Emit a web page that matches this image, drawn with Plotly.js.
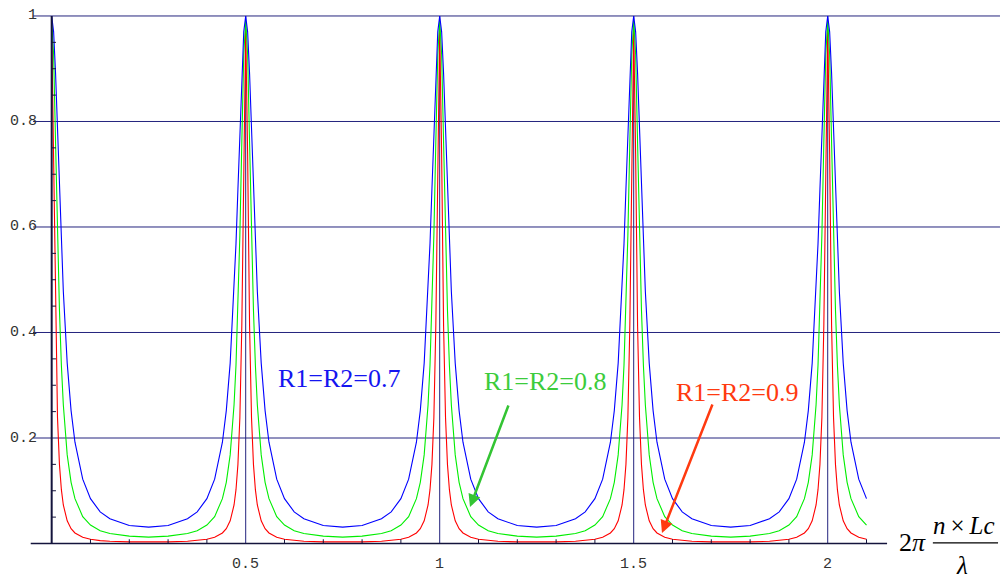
<!DOCTYPE html>
<html>
<head>
<meta charset="utf-8">
<script src="https://cdn.plot.ly/plotly-3.0.1.min.js"></script>
<style>html,body{margin:0;padding:0;background:#fff;}#chart{width:1006px;height:578px;}</style>
</head>
<body>
<div id="chart"></div>
<script>
// phase values along the x axis (2π·n·Lc/λ)
const xPhase = [
  0, 0.005, 0.01, 0.015, 0.02, 0.025, 0.03, 0.04, 0.05, 0.06, 0.08, 0.1, 0.125, 0.15, 0.2, 0.25, 0.3, 0.35, 0.375, 0.4, 0.42, 0.44, 0.45, 0.46, 0.47, 0.475, 0.48, 0.485, 0.49, 0.495,
  0.5, 0.505, 0.51, 0.515, 0.52, 0.525, 0.53, 0.54, 0.55, 0.56, 0.58, 0.6, 0.625, 0.65, 0.7, 0.75, 0.8, 0.85, 0.875, 0.9, 0.92, 0.94, 0.95, 0.96, 0.97, 0.975, 0.98, 0.985, 0.99, 0.995,
  1, 1.005, 1.01, 1.015, 1.02, 1.025, 1.03, 1.04, 1.05, 1.06, 1.08, 1.1, 1.125, 1.15, 1.2, 1.25, 1.3, 1.35, 1.375, 1.4, 1.42, 1.44, 1.45, 1.46, 1.47, 1.475, 1.48, 1.485, 1.49, 1.495,
  1.5, 1.505, 1.51, 1.515, 1.52, 1.525, 1.53, 1.54, 1.55, 1.56, 1.58, 1.6, 1.625, 1.65, 1.7, 1.75, 1.8, 1.85, 1.875, 1.9, 1.92, 1.94, 1.95, 1.96, 1.97, 1.975, 1.98, 1.985, 1.99, 1.995,
  2, 2.005, 2.01, 2.015, 2.02, 2.025, 2.03, 2.04, 2.05, 2.06, 2.08, 2.1
];
// transmission, R1=R2=0.7 (blue)
const tR07 = [
  1, .970, .891, .784, .672, .568, .478, .342, .252, .192, .122, .085, .060, .047, .034, .031, .034, .047, .060, .085, .122, .192, .252, .342, .478, .568, .672, .784, .891, .970,
  1, .970, .891, .784, .672, .568, .478, .342, .252, .192, .122, .085, .060, .047, .034, .031, .034, .047, .060, .085, .122, .192, .252, .342, .478, .568, .672, .784, .891, .970,
  1, .970, .891, .784, .672, .568, .478, .342, .252, .192, .122, .085, .060, .047, .034, .031, .034, .047, .060, .085, .122, .192, .252, .342, .478, .568, .672, .784, .891, .970,
  1, .970, .891, .784, .672, .568, .478, .342, .252, .192, .122, .085, .060, .047, .034, .031, .034, .047, .060, .085, .122, .192, .252, .342, .478, .568, .672, .784, .891, .970,
  1, .970, .891, .784, .672, .568, .478, .342, .252, .192, .122, .085
];
// transmission, R1=R2=0.8 (green)
const tR08 = [
  .99, .927, .760, .585, .443, .338, .263, .168, .116, .085, .051, .035, .024, .019, .014, .012, .014, .019, .024, .035, .051, .085, .116, .168, .263, .338, .443, .585, .760, .927,
  .99, .927, .760, .585, .443, .338, .263, .168, .116, .085, .051, .035, .024, .019, .014, .012, .014, .019, .024, .035, .051, .085, .116, .168, .263, .338, .443, .585, .760, .927,
  .99, .927, .760, .585, .443, .338, .263, .168, .116, .085, .051, .035, .024, .019, .014, .012, .014, .019, .024, .035, .051, .085, .116, .168, .263, .338, .443, .585, .760, .927,
  .99, .927, .760, .585, .443, .338, .263, .168, .116, .085, .051, .035, .024, .019, .014, .012, .014, .019, .024, .035, .051, .085, .116, .168, .263, .338, .443, .585, .760, .927,
  .99, .927, .760, .585, .443, .338, .263, .168, .116, .085, .051, .035
];
// transmission, R1=R2=0.9 (red)
const tR09 = [
  .975, .738, .413, .239, .150, .102, .073, .043, .028, .020, .012, .008, .0055, .0042, .0031, .0028, .0031, .0042, .0055, .008, .012, .020, .028, .043, .073, .102, .150, .239, .413, .738,
  .975, .738, .413, .239, .150, .102, .073, .043, .028, .020, .012, .008, .0055, .0042, .0031, .0028, .0031, .0042, .0055, .008, .012, .020, .028, .043, .073, .102, .150, .239, .413, .738,
  .975, .738, .413, .239, .150, .102, .073, .043, .028, .020, .012, .008, .0055, .0042, .0031, .0028, .0031, .0042, .0055, .008, .012, .020, .028, .043, .073, .102, .150, .239, .413, .738,
  .975, .738, .413, .239, .150, .102, .073, .043, .028, .020, .012, .008, .0055, .0042, .0031, .0028, .0031, .0042, .0055, .008, .012, .020, .028, .043, .073, .102, .150, .239, .413, .738,
  .975, .738, .413, .239, .150, .102, .073, .043, .028, .020, .012, .008
];
const seriesNames = ["R1=R2=0.9", "R1=R2=0.8", "R1=R2=0.7"];
const xTickVals = [0.5, 1, 1.5, 2];
const xTickText = ["0.5", "1", "1.5", "2"];
const yTickVals = [0.2, 0.4, 0.6, 0.8, 1];
const yTickText = ["0.2", "0.4", "0.6", "0.8", "1"];
const xMinorTicks = [0.1, 0.2, 0.3, 0.4, 0.6, 0.7, 0.8, 0.9, 1.1, 1.2, 1.3, 1.4, 1.6, 1.7, 1.8, 1.9, 2.1];
const yMinorTicks = [0.05, 0.1, 0.15, 0.25, 0.3, 0.35, 0.45, 0.5, 0.55, 0.65, 0.7, 0.75, 0.85, 0.9, 0.95];

const gridCol = '#24247e';
const axisCol = '#14143c';
const shapes = [];
// horizontal grid lines
yTickVals.forEach(v => shapes.push({type:'line', xref:'x', yref:'y', x0:-0.048, x1:2.444, y0:v, y1:v, line:{color:gridCol, width:1}, layer:'below'}));
// vertical lines at the resonances
xTickVals.forEach(v => shapes.push({type:'line', xref:'x', yref:'y', x0:v, x1:v, y0:0, y1:1, line:{color:gridCol, width:1}, layer:'below'}));
// axes
shapes.push({type:'line', xref:'x', yref:'y', x0:-0.054, x1:2.153, y0:0, y1:0, line:{color:axisCol, width:1.6}});
shapes.push({type:'line', xref:'x', yref:'y', x0:0, x1:0, y0:0, y1:1, line:{color:axisCol, width:2}});
// minor ticks
xMinorTicks.forEach(v => shapes.push({type:'line', xref:'x', yref:'y', x0:v, x1:v, y0:0, y1:0.008, line:{color:axisCol, width:1}}));
yMinorTicks.forEach(v => shapes.push({type:'line', xref:'x', yref:'y', x0:0, x1:0.011, y0:v, y1:v, line:{color:axisCol, width:1}}));
// fraction bar of the axis label
shapes.push({type:'line', xref:'x', yref:'y', x0:2.271, x1:2.439, y0:0.001, y1:0.001, line:{color:'#000', width:1.3}});

const tickFont = {family:'Liberation Mono, Courier New, monospace', size:15, color:'#333'};
const annotations = [];
xTickVals.forEach((v,i) => annotations.push({x:v, y:-0.0405, xref:'x', yref:'y', text:xTickText[i], showarrow:false, font:tickFont, xanchor:'center', yanchor:'middle'}));
yTickVals.forEach((v,i) => annotations.push({x:-0.033, y:v, xref:'x', yref:'y', text:yTickText[i], showarrow:false, font:tickFont, xanchor:'right', yanchor:'middle'}));

const serif = 'Liberation Serif, Times New Roman, serif';
annotations.push({x:2.2198, y:0.002, xref:'x', yref:'y', text:'2<i>π</i>', showarrow:false, font:{family:serif, size:26, color:'#000'}, xanchor:'center', yanchor:'middle'});
annotations.push({x:2.352, y:0.034, xref:'x', yref:'y', text:'<i>n</i>\u2009×\u2009<i>Lc</i>', showarrow:false, font:{family:serif, size:25, color:'#000'}, xanchor:'center', yanchor:'middle'});
annotations.push({x:2.347, y:-0.041, xref:'x', yref:'y', text:'<i>λ</i>', showarrow:false, font:{family:serif, size:25, color:'#000'}, xanchor:'center', yanchor:'middle'});

// curve labels
annotations.push({x:0.743, y:0.312, xref:'x', yref:'y', text:seriesNames[2], showarrow:false, font:{family:serif, size:26, color:'#1515f0'}, xanchor:'center', yanchor:'middle'});
annotations.push({x:1.2714, y:0.308, xref:'x', yref:'y', text:seriesNames[1], showarrow:false, font:{family:serif, size:26, color:'#3ccc3c'}, xanchor:'center', yanchor:'middle'});
annotations.push({x:1.7675, y:0.287, xref:'x', yref:'y', text:seriesNames[0], showarrow:false, font:{family:serif, size:26, color:'#ff3a10'}, xanchor:'center', yanchor:'middle'});
// arrows
annotations.push({x:1.0781, y:0.0692, ax:1.1786, ay:0.2645, xref:'x', yref:'y', axref:'x', ayref:'y', text:'', showarrow:true, arrowhead:2, arrowsize:1, arrowwidth:2.5, arrowcolor:'#33c433'});
annotations.push({x:1.5729, y:0.0199, ax:1.7044, ay:0.2664, xref:'x', yref:'y', axref:'x', ayref:'y', text:'', showarrow:true, arrowhead:2, arrowsize:1, arrowwidth:2.5, arrowcolor:'#ff3a10'});

const traces = [
  {x:xPhase, y:tR09, name:seriesNames[0], type:'scatter', mode:'lines', line:{color:'#ff0000', width:1.1}, cliponaxis:false},
  {x:xPhase, y:tR08, name:seriesNames[1], type:'scatter', mode:'lines', line:{color:'#00ee00', width:1.1}, cliponaxis:false},
  {x:xPhase, y:tR07, name:seriesNames[2], type:'scatter', mode:'lines', line:{color:'#0000ff', width:1.1}, cliponaxis:false}
];

const layout = {
  width:1006, height:578,
  margin:{l:0, r:0, t:0, b:0},
  paper_bgcolor:'#fff', plot_bgcolor:'#fff',
  showlegend:false,
  xaxis:{range:[-0.1332, 2.4595], visible:false, fixedrange:true},
  yaxis:{range:[-0.0654, 1.0303], visible:false, fixedrange:true},
  shapes:shapes,
  annotations:annotations
};
Plotly.newPlot('chart', traces, layout, {staticPlot:true, displayModeBar:false});
</script>
</body>
</html>
